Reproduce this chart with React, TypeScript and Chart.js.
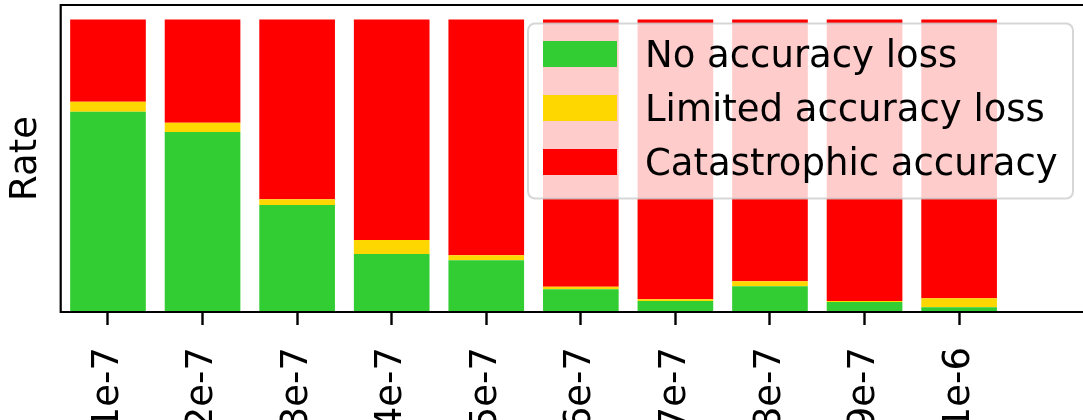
import React, { useEffect, useRef } from "react";
import { Chart, registerables } from "chart.js";

Chart.register(...registerables);

const CATEGORIES = ["1e-7", "2e-7", "3e-7", "4e-7", "5e-7", "6e-7", "7e-7", "8e-7", "9e-7", "1e-6"];
const NO_LOSS = [0.685, 0.616, 0.366, 0.198, 0.177, 0.078, 0.038, 0.088, 0.034, 0.016];
const LIMITED_LOSS = [0.034, 0.031, 0.02, 0.048, 0.017, 0.008, 0.006, 0.017, 0.004, 0.031];
const CATASTROPHIC = [0.281, 0.353, 0.614, 0.754, 0.806, 0.914, 0.956, 0.895, 0.962, 0.953];
const SERIES_LABELS = ["No accuracy loss", "Limited accuracy loss", "Catastrophic accuracy"];
const SERIES_COLORS = ["#32CD32", "#FFD700", "#FF0000"];

const FONT = "DejaVu Sans";
const W = 1083;
const H = 420;

const spinesPlugin = {
  id: "spines",
  afterDatasetsDraw(chart: any) {
    const { ctx, chartArea } = chart;
    ctx.save();
    ctx.strokeStyle = "#000";
    ctx.lineWidth = 2.2;
    ctx.lineCap = "square";
    ctx.beginPath();
    ctx.moveTo(chartArea.left, chartArea.bottom);
    ctx.lineTo(chartArea.left, chartArea.top);
    ctx.lineTo(chartArea.right + 5, chartArea.top);
    ctx.moveTo(chartArea.left, chartArea.bottom);
    ctx.lineTo(chartArea.right + 5, chartArea.bottom);
    ctx.stroke();
    ctx.restore();
  },
};

function roundRect(ctx: CanvasRenderingContext2D, x: number, y: number, w: number, h: number, r: number) {
  ctx.beginPath();
  ctx.moveTo(x + r, y);
  ctx.lineTo(x + w - r, y);
  ctx.arcTo(x + w, y, x + w, y + r, r);
  ctx.lineTo(x + w, y + h - r);
  ctx.arcTo(x + w, y + h, x + w - r, y + h, r);
  ctx.lineTo(x + r, y + h);
  ctx.arcTo(x, y + h, x, y + h - r, r);
  ctx.lineTo(x, y + r);
  ctx.arcTo(x, y, x + r, y, r);
  ctx.closePath();
}

const legendPlugin = {
  id: "mplLegend",
  afterDraw(chart: any) {
    const { ctx } = chart;
    const boxX = 528;
    const boxY = 23.5;
    const boxW = 545;
    const boxH = 175;
    ctx.save();
    roundRect(ctx, boxX, boxY, boxW, boxH, 7);
    ctx.fillStyle = "rgba(255,255,255,0.8)";
    ctx.fill();
    ctx.lineWidth = 2;
    ctx.strokeStyle = "rgba(204,204,204,0.8)";
    ctx.stroke();
    ctx.font = `37px "${FONT}"`;
    ctx.textBaseline = "alphabetic";
    ctx.textAlign = "left";
    chart.data.datasets.forEach((ds: any, i: number) => {
      const top = 41 + i * 54;
      ctx.fillStyle = ds.backgroundColor;
      ctx.fillRect(543, top, 74, 26);
      ctx.fillStyle = "#000";
      ctx.fillText(ds.label, 645, top + 25.7);
    });
    ctx.restore();
  },
};

export default function App() {
  const ref = useRef<HTMLCanvasElement | null>(null);

  useEffect(() => {
    if (!ref.current) return;
    const series = [NO_LOSS, LIMITED_LOSS, CATASTROPHIC];
    const chart = new Chart(ref.current, {
      type: "bar",
      data: {
        datasets: series.map((vals, s) => ({
          label: SERIES_LABELS[s],
          data: vals.map((v, i) => ({ x: i, y: v })),
          backgroundColor: SERIES_COLORS[s],
          borderWidth: 0,
          barPercentage: 0.8,
          categoryPercentage: 1,
        })),
      },
      options: {
        animation: false,
        responsive: false,
        devicePixelRatio: 1,
        layout: { padding: { top: 5, left: 0, right: 0, bottom: 0 } },
        plugins: {
          legend: { display: false },
          tooltip: { enabled: false },
        },
        scales: {
          x: {
            type: "linear",
            stacked: true,
            offset: false,
            min: -0.5,
            max: 10.31,
            afterBuildTicks: (scale: any) => {
              scale.ticks = CATEGORIES.map((_, i) => ({ value: i }));
            },
            afterFit: (scale: any) => {
              scale.height = H - 312;
            },
            ticks: {
              autoSkip: false,
              maxRotation: 90,
              minRotation: 90,
              padding: 22,
              color: "#000",
              font: { family: FONT, size: 37 },
              callback: (value: any) => CATEGORIES[value as number],
            },
            grid: {
              display: true,
              offset: false,
              drawOnChartArea: false,
              drawTicks: true,
              tickLength: 13,
              tickWidth: 2.4,
              tickColor: "#000",
            },
            border: { display: false },
          },
          y: {
            type: "linear",
            stacked: true,
            min: 0,
            max: 1.05,
            afterFit: (scale: any) => {
              scale.width = 60.7;
            },
            ticks: { display: false },
            grid: { display: false },
            border: { display: false },
            title: {
              display: true,
              text: "Rate",
              color: "#000",
              font: { family: FONT, size: 37 },
              padding: { top: 4, bottom: 0 },
            },
          },
        },
      },
      plugins: [spinesPlugin, legendPlugin],
    });
    return () => chart.destroy();
  }, []);

  return (
    <div style={{ position: "absolute", left: 0, top: 0, width: W, height: H, overflow: "hidden", background: "#fff" }}>
      <canvas ref={ref} width={W} height={H} style={{ display: "block", width: W, height: H }} />
    </div>
  );
}
